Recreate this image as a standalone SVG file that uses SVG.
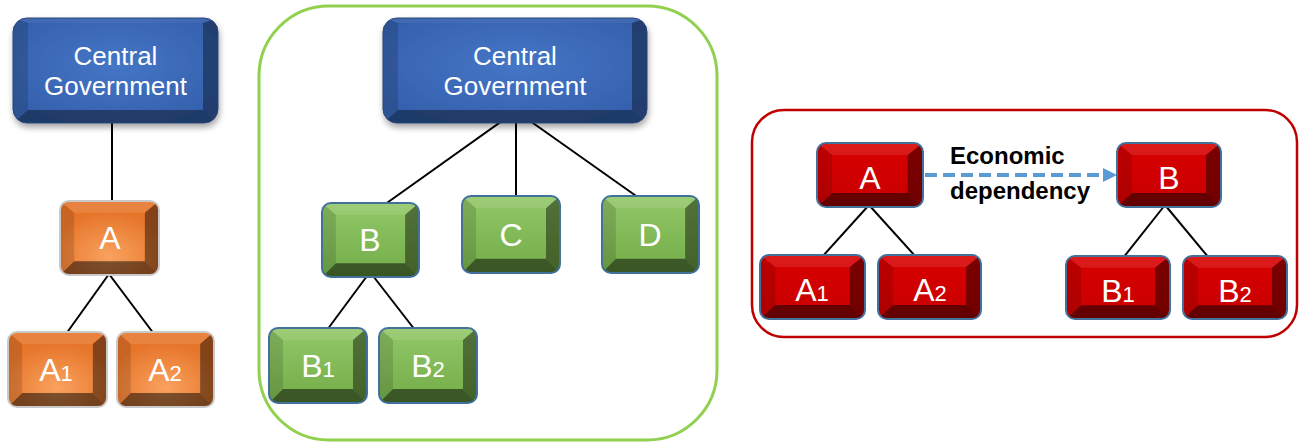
<svg xmlns="http://www.w3.org/2000/svg" width="1301" height="443" viewBox="0 0 1301 443">
<style>
text{font-family:"Liberation Sans",Arial,sans-serif;fill:#fff;text-anchor:middle}
.cg{font-size:26px}
.lt{font-size:32px}
.sub{font-size:22px}
.lbl{font-size:24px;font-weight:bold;fill:#000;text-anchor:start}
.conn{stroke:#000;stroke-width:2;fill:none}
.dep{stroke:#5B9BD5;stroke-width:4;stroke-dasharray:12 6;fill:none}
.bo{stroke:#C9C9C9;stroke-width:2;fill:none}
.bn{stroke:#41719C;stroke-width:2;fill:none}
.bb{stroke:#2A4677;stroke-width:1;fill:none}
.of{fill:url(#oFace)}
.gf{fill:url(#gFace)}
.rf{fill:url(#rFace)}
.blf{fill:url(#bFace)}
.hi{fill:#fff;fill-opacity:.1}
.s1{fill:#000;fill-opacity:.13}
.s2{fill:#000;fill-opacity:.43}
.s3{fill:#000;fill-opacity:.5}
.bhi{fill:#fff;fill-opacity:.05}
.bs1{fill:#000;fill-opacity:.15}
.bs2{fill:#000;fill-opacity:.36}
.bs3{fill:#000;fill-opacity:.4}
</style>
<defs>
<radialGradient id="oFace" cx=".5" cy=".75" r=".6">
<stop offset="0" stop-color="#F9A25F"/><stop offset="1" stop-color="#E6752A"/>
</radialGradient>
<linearGradient id="gFace" x1="0" y1="0" x2="0" y2="1">
<stop offset="0" stop-color="#92C868"/><stop offset="1" stop-color="#74AC49"/>
</linearGradient>
<linearGradient id="rFace" x1="0" y1="0" x2="0" y2="1">
<stop offset="0" stop-color="#D80000"/><stop offset="1" stop-color="#C80000"/>
</linearGradient>
<radialGradient id="bFace" cx=".5" cy=".45" r=".6">
<stop offset="0" stop-color="#4575C6"/><stop offset="1" stop-color="#3561AD"/>
</radialGradient>
<clipPath id="cpS"><rect x="0" y="0" width="98" height="75" rx="9"/></clipPath>
<clipPath id="cpR"><rect x="0" y="0" width="104" height="64" rx="9"/></clipPath>
<clipPath id="cpB1"><rect x="0" y="0" width="205" height="105" rx="14"/></clipPath>
<clipPath id="cpB2"><rect x="0" y="0" width="264" height="105" rx="14"/></clipPath>
<symbol id="bevS" viewBox="0 0 98 75" preserveAspectRatio="none">
<g clip-path="url(#cpS)">
<polygon class="hi" points="0,0 98,0 84,12 14,12"/>
<polygon class="s1" points="0,0 14,12 14,61 0,75"/>
<polygon class="s2" points="98,0 98,75 84,61 84,12"/>
<polygon class="s3" points="0,75 14,61 84,61 98,75"/>
</g>
</symbol>
<symbol id="bevR" viewBox="0 0 104 64" preserveAspectRatio="none">
<g clip-path="url(#cpR)">
<polygon class="hi" points="0,0 104,0 89,12 15,12"/>
<polygon class="s1" points="0,0 15,12 15,50 0,64"/>
<polygon class="s2" points="104,0 104,64 89,50 89,12"/>
<polygon class="s3" points="0,64 15,50 89,50 104,64"/>
</g>
</symbol>
<symbol id="bevB1" viewBox="0 0 205 105" preserveAspectRatio="none">
<g clip-path="url(#cpB1)">
<polygon class="bhi" points="0,0 205,0 190,5 15,5"/>
<polygon class="bs1" points="0,0 15,5 15,92 0,105"/>
<polygon class="bs2" points="205,0 205,105 190,92 190,5"/>
<polygon class="bs3" points="0,105 15,92 190,92 205,105"/>
</g>
</symbol>
<symbol id="bevB2" viewBox="0 0 264 105" preserveAspectRatio="none">
<g clip-path="url(#cpB2)">
<polygon class="bhi" points="0,0 264,0 249,5 15,5"/>
<polygon class="bs1" points="0,0 15,5 15,92 0,105"/>
<polygon class="bs2" points="264,0 264,105 249,92 249,5"/>
<polygon class="bs3" points="0,105 15,92 249,92 264,105"/>
</g>
</symbol>
<marker id="arr" markerUnits="userSpaceOnUse" markerWidth="16" markerHeight="16" refX="2" refY="7" orient="auto">
<path d="M0,0 L14,7 L0,14 z" fill="#5B9BD5"/>
</marker>
<filter id="shd" x="-10%" y="-10%" width="125%" height="135%">
<feDropShadow dx="1" dy="4" stdDeviation="3" flood-color="#000" flood-opacity=".35"/>
</filter>
</defs>

<g id="containers">
<rect id="green-box" x="259" y="6" width="458" height="434" rx="70" fill="none" stroke="#92D050" stroke-width="3"/>
<rect id="red-box" x="752" y="110" width="545" height="227" rx="32" fill="none" stroke="#C00000" stroke-width="2.5"/>
</g>

<g id="connectors">
<line class="conn" x1="112" y1="118" x2="112" y2="203"/>
<line class="conn" x1="109" y1="274" x2="66" y2="334"/>
<line class="conn" x1="109" y1="274" x2="154" y2="334"/>
<line class="conn" x1="516" y1="111" x2="384" y2="205"/>
<line class="conn" x1="516" y1="111" x2="516" y2="198"/>
<line class="conn" x1="516" y1="111" x2="639" y2="198"/>
<line class="conn" x1="370" y1="272" x2="327" y2="330"/>
<line class="conn" x1="370" y1="272" x2="415" y2="330"/>
<line class="conn" x1="869" y1="205" x2="822" y2="257"/>
<line class="conn" x1="869" y1="205" x2="916" y2="257"/>
<line class="conn" x1="1165" y1="205" x2="1123" y2="258"/>
<line class="conn" x1="1165" y1="205" x2="1209" y2="258"/>
<line class="dep" x1="925" y1="175" x2="1105" y2="175" marker-end="url(#arr)"/>
</g>

<g id="dep-label">
<text class="lbl" x="950" y="164">Economic</text>
<text class="lbl" x="950" y="199">dependency</text>
</g>

<g id="cg1" filter="url(#shd)">
<rect class="blf" x="13" y="18" width="205" height="105" rx="14"/>
<use href="#bevB1" x="13" y="18" width="205" height="105"/>
<rect class="bb" x="13" y="18" width="205" height="105" rx="14"/>
</g>
<g id="cg1-text"><text class="cg" x="115.5" y="65">Central</text><text class="cg" x="115.5" y="95">Government</text></g>

<g id="a">
<rect class="of" x="60" y="201" width="99" height="74" rx="9"/>
<use href="#bevS" x="60" y="201" width="99" height="74"/>
<rect class="bo" x="60" y="201" width="99" height="74" rx="9"/>
<text class="lt" x="110" y="249">A</text>
</g>
<g id="a1">
<rect class="of" x="8" y="332" width="99" height="75" rx="9"/>
<use href="#bevS" x="8" y="332" width="99" height="75"/>
<rect class="bo" x="8" y="332" width="99" height="75" rx="9"/>
<text class="lt" x="56" y="381">A<tspan class="sub">1</tspan></text>
</g>
<g id="a2">
<rect class="of" x="117" y="332" width="97" height="75" rx="9"/>
<use href="#bevS" x="117" y="332" width="97" height="75"/>
<rect class="bo" x="117" y="332" width="97" height="75" rx="9"/>
<text class="lt" x="165" y="381">A<tspan class="sub">2</tspan></text>
</g>

<g id="cg2" filter="url(#shd)">
<rect class="blf" x="383" y="18" width="264" height="105" rx="14"/>
<use href="#bevB2" x="383" y="18" width="264" height="105"/>
<rect class="bb" x="383" y="18" width="264" height="105" rx="14"/>
</g>
<g id="cg2-text"><text class="cg" x="515" y="65">Central</text><text class="cg" x="515" y="95">Government</text></g>

<g id="b">
<rect class="gf" x="322" y="203" width="97" height="74" rx="9"/>
<use href="#bevS" x="322" y="203" width="97" height="74"/>
<rect class="bn" x="322" y="203" width="97" height="74" rx="9"/>
<text class="lt" x="370" y="251">B</text>
</g>
<g id="c">
<rect class="gf" x="462" y="196" width="98" height="77" rx="9"/>
<use href="#bevS" x="462" y="196" width="98" height="77"/>
<rect class="bn" x="462" y="196" width="98" height="77" rx="9"/>
<text class="lt" x="511" y="246">C</text>
</g>
<g id="d">
<rect class="gf" x="602" y="196" width="97" height="77" rx="9"/>
<use href="#bevS" x="602" y="196" width="97" height="77"/>
<rect class="bn" x="602" y="196" width="97" height="77" rx="9"/>
<text class="lt" x="650" y="246">D</text>
</g>
<g id="b1">
<rect class="gf" x="269" y="328" width="98" height="75" rx="9"/>
<use href="#bevS" x="269" y="328" width="98" height="75"/>
<rect class="bn" x="269" y="328" width="98" height="75" rx="9"/>
<text class="lt" x="318" y="377">B<tspan class="sub">1</tspan></text>
</g>
<g id="b2">
<rect class="gf" x="379" y="328" width="98" height="75" rx="9"/>
<use href="#bevS" x="379" y="328" width="98" height="75"/>
<rect class="bn" x="379" y="328" width="98" height="75" rx="9"/>
<text class="lt" x="428" y="377">B<tspan class="sub">2</tspan></text>
</g>

<g id="ra">
<rect class="rf" x="817" y="143" width="106" height="64" rx="9"/>
<use href="#bevR" x="817" y="143" width="106" height="64"/>
<rect class="bn" x="817" y="143" width="106" height="64" rx="9"/>
<text class="lt" x="870" y="189">A</text>
</g>
<g id="rb">
<rect class="rf" x="1117" y="143" width="104" height="64" rx="9"/>
<use href="#bevR" x="1117" y="143" width="104" height="64"/>
<rect class="bn" x="1117" y="143" width="104" height="64" rx="9"/>
<text class="lt" x="1169" y="189">B</text>
</g>
<g id="ra1">
<rect class="rf" x="760" y="255" width="105" height="64" rx="9"/>
<use href="#bevR" x="760" y="255" width="105" height="64"/>
<rect class="bn" x="760" y="255" width="105" height="64" rx="9"/>
<text class="lt" x="812" y="301">A<tspan class="sub">1</tspan></text>
</g>
<g id="ra2">
<rect class="rf" x="878" y="255" width="103" height="64" rx="9"/>
<use href="#bevR" x="878" y="255" width="103" height="64"/>
<rect class="bn" x="878" y="255" width="103" height="64" rx="9"/>
<text class="lt" x="930" y="301">A<tspan class="sub">2</tspan></text>
</g>
<g id="rb1">
<rect class="rf" x="1066" y="256" width="104" height="63" rx="9"/>
<use href="#bevR" x="1066" y="256" width="104" height="63"/>
<rect class="bn" x="1066" y="256" width="104" height="63" rx="9"/>
<text class="lt" x="1118" y="302">B<tspan class="sub">1</tspan></text>
</g>
<g id="rb2">
<rect class="rf" x="1183" y="256" width="104" height="63" rx="9"/>
<use href="#bevR" x="1183" y="256" width="104" height="63"/>
<rect class="bn" x="1183" y="256" width="104" height="63" rx="9"/>
<text class="lt" x="1235" y="302">B<tspan class="sub">2</tspan></text>
</g>
</svg>
